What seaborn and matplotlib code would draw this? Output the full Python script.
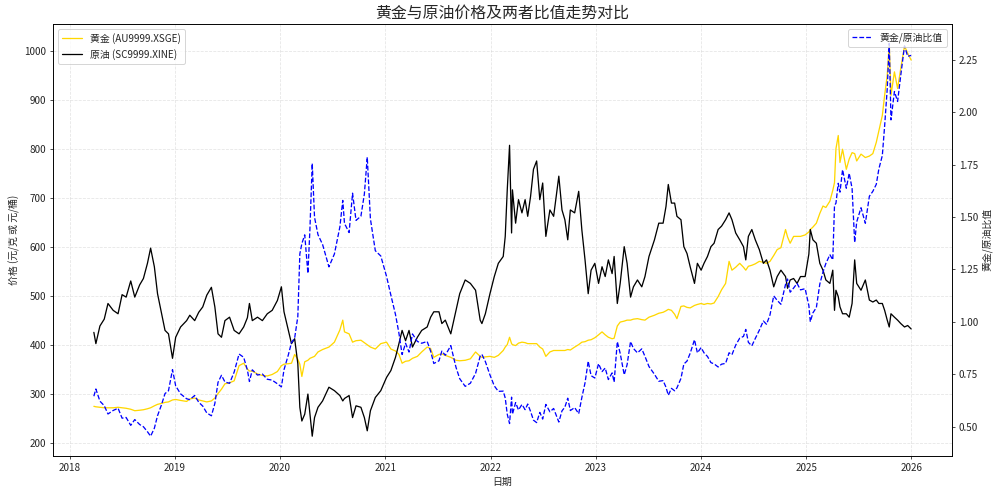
import matplotlib
matplotlib.use("Agg")
import matplotlib.pyplot as plt
import seaborn as sns
import pandas as pd
import numpy as np

sns.set_style("ticks")
plt.rcParams['font.family'] = ['Noto Sans CJK SC', 'DejaVu Sans']
plt.rcParams['axes.unicode_minus'] = False

dates = [
    "2018-03-26", "2018-04-02", "2018-04-16", "2018-05-01", "2018-05-14", "2018-06-01", "2018-06-18",
    "2018-07-02", "2018-07-16", "2018-08-01", "2018-08-15", "2018-09-01", "2018-09-14", "2018-09-28",
    "2018-10-09", "2018-10-22", "2018-11-02", "2018-11-16", "2018-11-28", "2018-12-10", "2018-12-24",
    "2019-01-04", "2019-01-21", "2019-02-11", "2019-02-22", "2019-03-11", "2019-03-25", "2019-04-08",
    "2019-04-22", "2019-05-08", "2019-05-20", "2019-05-31", "2019-06-12", "2019-06-24", "2019-07-10",
    "2019-07-26", "2019-08-12", "2019-08-28", "2019-09-10", "2019-09-17", "2019-09-27", "2019-10-15",
    "2019-11-01", "2019-11-18", "2019-12-05", "2019-12-23",
    "2020-01-06", "2020-01-15", "2020-01-30", "2020-02-10", "2020-02-21", "2020-03-03", "2020-03-10",
    "2020-03-17", "2020-03-27", "2020-04-07", "2020-04-14", "2020-04-22", "2020-04-30", "2020-05-12",
    "2020-05-28", "2020-06-19", "2020-07-08", "2020-07-27", "2020-08-06", "2020-08-12", "2020-08-28",
    "2020-09-09", "2020-09-21", "2020-10-08", "2020-10-20", "2020-10-30", "2020-11-10", "2020-11-27",
    "2020-12-16",
    "2021-01-05", "2021-01-20", "2021-02-05", "2021-02-17", "2021-02-28", "2021-03-12", "2021-03-24",
    "2021-04-05", "2021-04-22", "2021-05-07", "2021-05-26", "2021-06-07", "2021-06-18", "2021-07-06",
    "2021-07-16", "2021-07-28", "2021-08-16", "2021-09-03", "2021-09-16", "2021-10-05", "2021-10-23",
    "2021-11-10", "2021-11-26", "2021-12-02", "2021-12-14", "2021-12-30",
    "2022-01-14", "2022-01-28", "2022-02-14", "2022-02-21", "2022-02-28", "2022-03-08", "2022-03-15",
    "2022-03-18", "2022-03-29", "2022-04-08", "2022-04-20", "2022-05-01", "2022-05-10", "2022-05-20",
    "2022-05-30", "2022-06-10", "2022-06-21", "2022-07-01", "2022-07-12", "2022-07-26", "2022-08-08",
    "2022-08-26", "2022-09-06", "2022-09-16", "2022-09-26", "2022-10-05", "2022-10-20", "2022-11-03",
    "2022-11-14", "2022-11-25", "2022-12-06", "2022-12-16", "2022-12-29",
    "2023-01-11", "2023-01-23", "2023-02-03", "2023-02-14", "2023-02-27", "2023-03-06", "2023-03-17",
    "2023-03-27", "2023-04-10", "2023-04-20", "2023-05-02", "2023-05-12", "2023-05-26", "2023-06-10",
    "2023-06-21", "2023-07-05", "2023-07-24", "2023-08-08", "2023-08-23", "2023-09-02", "2023-09-10",
    "2023-09-21", "2023-10-02", "2023-10-10", "2023-10-24", "2023-11-03", "2023-11-14", "2023-11-25",
    "2023-12-10", "2023-12-20",
    "2024-01-02", "2024-01-12", "2024-01-24", "2024-02-05", "2024-02-16", "2024-03-01", "2024-03-13",
    "2024-03-27", "2024-04-08", "2024-04-18", "2024-05-01", "2024-05-15", "2024-05-28", "2024-06-05",
    "2024-06-14", "2024-06-26", "2024-07-08", "2024-07-22", "2024-08-05", "2024-08-16", "2024-08-28",
    "2024-09-10", "2024-09-22", "2024-10-05", "2024-10-21", "2024-10-28", "2024-11-06", "2024-11-18",
    "2024-11-30", "2024-12-12", "2024-12-28",
    "2025-01-10", "2025-01-15", "2025-01-24", "2025-02-05", "2025-02-17", "2025-02-28", "2025-03-10",
    "2025-03-24", "2025-04-03", "2025-04-09", "2025-04-14", "2025-04-22", "2025-04-28", "2025-05-07",
    "2025-05-20", "2025-05-30", "2025-06-09", "2025-06-18", "2025-06-25", "2025-07-10", "2025-07-25",
    "2025-08-08", "2025-08-20", "2025-09-01", "2025-09-10", "2025-09-22", "2025-09-30", "2025-10-09",
    "2025-10-16", "2025-10-22", "2025-11-03", "2025-11-14", "2025-11-25", "2025-12-08", "2025-12-19",
    "2025-12-31",
]

gold = [
    274, 273, 272, 271, 271, 271, 272, 271, 270, 268, 265, 266, 267, 269, 271, 275, 278, 280, 282, 283, 287,
    288, 286, 284, 289, 291, 287, 285, 283, 285, 291, 300, 309, 320, 322, 326, 357, 362, 350, 346, 346, 340,
    337, 336, 339, 345,
    357, 360, 361, 362, 380, 370, 360, 335, 365, 368, 372, 374, 376, 385, 390, 395, 405, 430, 450, 426, 422,
    405, 408, 409, 404, 400, 395, 391, 402,
    405, 391, 387, 380, 362, 366, 367, 372, 376, 385, 395, 392, 374, 380, 381, 378, 374, 368, 367, 368, 371,
    385, 376, 374, 375, 376,
    374, 378, 388, 395, 400, 415, 402, 400, 398, 403, 405, 404, 402, 402, 402, 402, 395, 391, 376, 385, 388,
    388, 388, 388, 390, 389, 395, 400, 405, 406, 409, 410, 414,
    420, 426, 420, 415, 412, 413, 438, 446, 448, 450, 450, 452, 453, 451, 450, 456, 460, 464, 466, 469, 472,
    470, 462, 453, 478, 479, 476, 475, 480, 482,
    484, 482, 484, 483, 485, 498, 512, 525, 570, 552, 558, 566, 558, 552, 560, 562, 565, 570, 568, 566, 570,
    582, 594, 598, 635, 620, 607, 621, 621, 621, 624,
    630, 635, 640, 648, 668, 683, 680, 693, 715, 731, 800, 827, 772, 799, 758, 779, 792, 790, 775, 789, 782,
    785, 790, 813, 837, 868, 909, 950, 1015, 909, 957, 923, 964, 1010, 995, 981,
]

oil = [
    425, 402, 438, 452, 484, 470, 463, 502, 497, 530, 497, 522, 535, 566, 597, 559, 504, 463, 429, 422, 372,
    415, 436, 449, 460, 449, 466, 477, 501, 517, 477, 422, 415, 449, 456, 429, 422, 436, 455, 484, 449, 456,
    449, 463, 470, 490,
    518, 467, 429, 402, 412, 361, 272, 244, 258, 299, 258, 213, 251, 272, 285, 313, 306, 296, 285, 290, 296,
    251, 275, 272, 251, 224, 265, 292, 306,
    333, 347, 374, 402, 429, 408, 429, 395, 415, 429, 436, 456, 467, 467, 443, 450, 422, 470, 504, 532, 525,
    511, 450, 443, 463, 504,
    539, 566, 580, 621, 716, 807, 628, 716, 648, 696, 669, 696, 662, 703, 758, 775, 696, 730, 621, 675, 662,
    744, 675, 655, 614, 675, 669, 713, 634, 573, 504, 552, 566,
    525, 559, 539, 573, 545, 580, 484, 525, 600, 566, 497, 518, 532, 518, 539, 580, 614, 648, 648, 682, 727,
    689, 689, 662, 655, 600, 586, 559, 525, 566,
    552, 566, 580, 600, 607, 635, 642, 655, 669, 655, 628, 614, 600, 573, 621, 635, 614, 594, 566, 573, 552,
    518, 539, 552, 539, 515, 532, 535, 525, 539, 539,
    585, 635, 614, 607, 566, 552, 532, 525, 552, 470, 511, 498, 477, 463, 463, 456, 484, 573, 525, 511, 532,
    491, 487, 491, 484, 484, 470, 450, 436, 463, 456, 450, 443, 436, 439, 432,
]

df = pd.DataFrame({"date": pd.to_datetime(dates), "gold": gold, "oil": oil})
df["ratio"] = df["gold"] / df["oil"]

fig = plt.figure(figsize=(14, 6.944), dpi=1000 / 14)
ax1 = fig.add_axes([0.053, 0.081, 0.899, 0.871])

sns.lineplot(data=df, x="date", y="gold", ax=ax1, color="#FFD700", linewidth=1.3,
             label="黄金 (AU9999.XSGE)")
sns.lineplot(data=df, x="date", y="oil", ax=ax1, color="black", linewidth=1.3,
             label="原油 (SC9999.XINE)")
ax1.set_xlabel("日期", fontsize=10)
ax1.set_ylabel("价格 (元/克 或 元/桶)", fontsize=10)
ax1.grid(True, linestyle="--", alpha=0.5)
ax1.tick_params(labelsize=10)
ax1.legend(loc="upper left", fontsize=10)

ax2 = ax1.twinx()
sns.lineplot(data=df, x="date", y="ratio", ax=ax2, color="blue", linewidth=1.3,
             linestyle="--", label="黄金/原油比值")
ax2.set_ylabel("黄金/原油比值", fontsize=10)
ax2.tick_params(labelsize=10)
ax2.legend(loc="upper right", fontsize=10)
ax2.grid(False)

for ax in (ax1, ax2):
    for s in ax.spines.values():
        s.set_visible(True)
        s.set_color("black")

ax1.set_title("黄金与原油价格及两者比值走势对比", fontsize=16)

fig.savefig("out.png", dpi=1000 / 14)
